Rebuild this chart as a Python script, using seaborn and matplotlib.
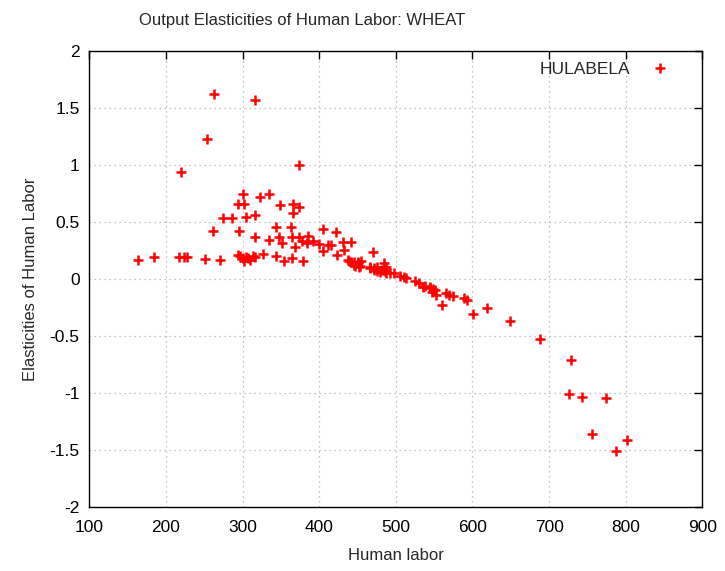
import numpy as np
import pandas as pd
import matplotlib
matplotlib.use("Agg")
import matplotlib.pyplot as plt
from matplotlib.lines import Line2D
import seaborn as sns

# ---- data ----
human_labor = [
    263, 316, 253, 220, 373, 300, 294, 302, 323, 334, 349, 366, 373, 366,
    274, 286, 304, 316, 261, 295, 343, 363, 316, 334, 348, 352, 365, 373,
    377, 385, 384, 368, 392, 400, 405, 422, 412, 416, 405, 431, 441, 432,
    423, 470,
    164, 184, 217, 223, 227, 251, 271, 294, 297, 300, 302, 304, 307, 310,
    313, 316, 326, 343, 354, 365, 379,
    438, 439, 442, 445, 445, 450, 450, 453, 455, 447, 452, 466, 466, 471,
    471, 475, 475, 479, 484, 484, 484, 487, 487, 482, 486, 492, 497, 505,
    513, 510, 525, 530, 536, 538, 545, 545, 549, 547, 553, 551, 566, 569,
    574, 560, 589, 593, 601, 619, 649, 688, 729, 726, 743, 774, 756, 802,
    788,
]
elasticity = [
    1.62, 1.57, 1.23, 0.94, 1.00, 0.75, 0.66, 0.66, 0.715, 0.745, 0.645,
    0.657, 0.628, 0.576, 0.537, 0.532, 0.546, 0.563, 0.424, 0.424, 0.453,
    0.459, 0.366, 0.340, 0.371, 0.319, 0.372, 0.366, 0.334, 0.378, 0.314,
    0.284, 0.334, 0.305, 0.439, 0.415, 0.299, 0.299, 0.247, 0.328, 0.328,
    0.256, 0.212, 0.238,
    0.168, 0.189, 0.197, 0.197, 0.197, 0.177, 0.168, 0.212, 0.203, 0.183,
    0.162, 0.197, 0.183, 0.168, 0.203, 0.197, 0.218, 0.203, 0.162, 0.183,
    0.162,
    0.168, 0.162, 0.145, 0.125, 0.153, 0.145, 0.139, 0.110, 0.155, 0.110,
    0.105, 0.105, 0.096, 0.096, 0.081, 0.105, 0.066, 0.058, 0.140, 0.105,
    0.075, 0.105, 0.052, 0.081, 0.066, 0.052, 0.052, 0.023, 0.009, 0.015,
    -0.021, -0.035, -0.070, -0.065, -0.078, -0.070, -0.087, -0.117, -0.137,
    -0.093, -0.122, -0.137, -0.152, -0.227, -0.166, -0.187, -0.305, -0.250,
    -0.370, -0.523, -0.710, -1.006, -1.032, -1.047, -1.360, -1.413, -1.512,
]
series_name = "HULABELA"
x_ticks = [100, 200, 300, 400, 500, 600, 700, 800, 900]
y_ticks = [-2, -1.5, -1, -0.5, 0, 0.5, 1, 1.5, 2]
y_tick_labels = ["-2", "-1.5", "-1", "-0.5", "0", "0.5", "1", "1.5", "2"]
title = "Output Elasticities of Human Labor: WHEAT"
x_label = "Human labor"
y_label = "Elasticities of Human Labor"

df = pd.DataFrame({"x": human_labor, "y": elasticity})

sns.set_theme(style="white")
plt.rcParams["font.family"] = ["Liberation Sans", "DejaVu Sans"]

W, H = 725, 571
fig = plt.figure(figsize=(W / 100, H / 100), dpi=100)
left, right, top, bottom = 89.4, 702.3, 51, 507
ax = fig.add_axes([left / W, 1 - bottom / H, (right - left) / W, (bottom - top) / H])

sns.scatterplot(data=df, x="x", y="y", marker="+", color="#ff0000", s=55,
                linewidth=1.8, ax=ax, legend=False, zorder=3)

ax.set_xlim(100, 900)
ax.set_ylim(-2, 2)
ax.set_xticks(x_ticks)
ax.set_xticklabels([str(t) for t in x_ticks])
ax.set_yticks(y_ticks)
ax.set_yticklabels(y_tick_labels)
ax.tick_params(direction="in", length=6, width=1, top=True, right=True,
               labelsize=12.5, colors="black")
ax.tick_params(axis="x", pad=9)
ax.tick_params(axis="y", pad=7)
ax.grid(True, linestyle=(0, (1, 3)), color="#b0b0b0", linewidth=0.9)
for sp in ax.spines.values():
    sp.set_color("black")
    sp.set_linewidth(1)

ax.set_xlabel(x_label, fontsize=12, labelpad=10)
ax.set_ylabel(y_label, fontsize=12, labelpad=8)

fig.text(302 / W, 1 - 21 / H, title, ha="center", va="center", fontsize=12)

handle = Line2D([], [], marker="+", color="#ff0000", ls="none",
                markersize=7, mew=1.8)
ax.legend([handle], [series_name], loc="center right",
          bbox_to_anchor=(693 / W, 1 - 69.3 / H), bbox_transform=fig.transFigure,
          frameon=False, markerfirst=False, handletextpad=0.7, fontsize=12.5)

fig.savefig("out.png", dpi=100)
